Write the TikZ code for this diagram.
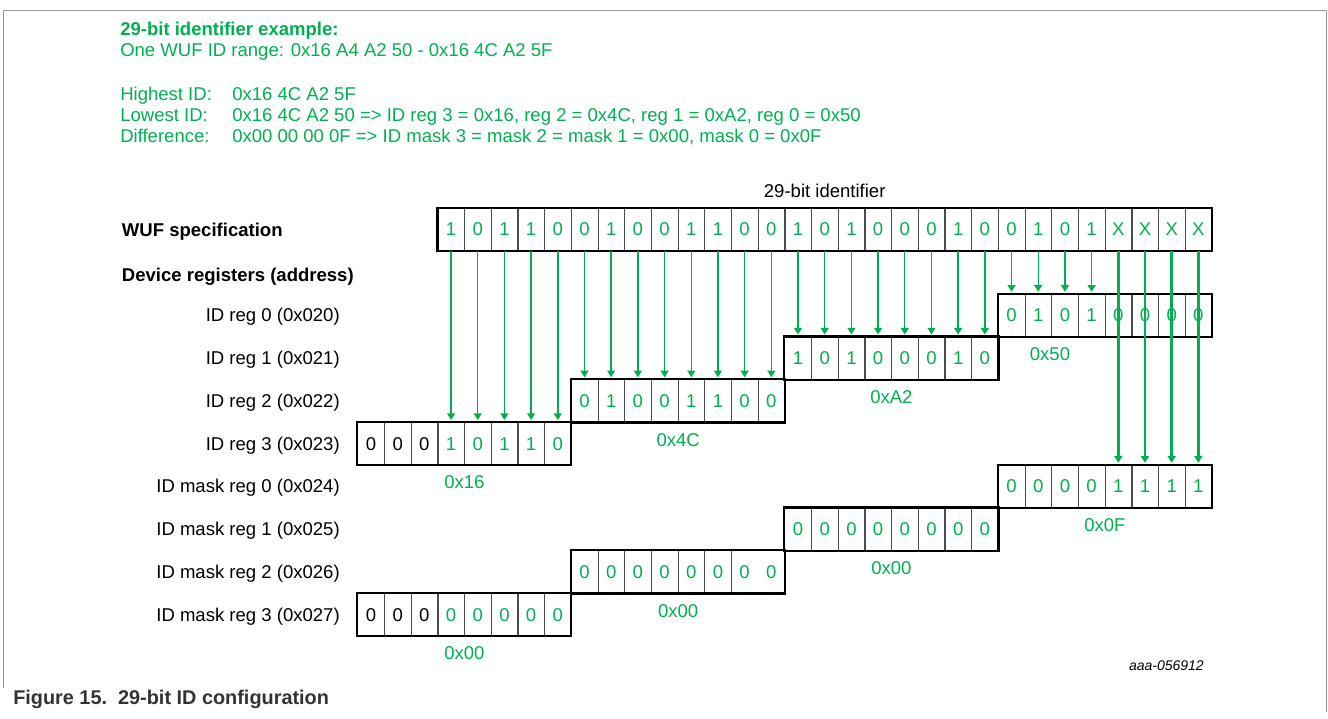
\documentclass[tikz,border=0pt]{standalone}
\usepackage{fontspec}
\setmainfont{Liberation Sans}
\usetikzlibrary{positioning,arrows.meta}
\definecolor{verde}{RGB}{0,176,80}

\begin{document}
\begin{tikzpicture}[x=0.75pt, y=-0.75pt,
        every node/.style={font=\fontsize{13.9}{16.7}\selectfont, inner sep=0pt},
        bit/.style={minimum width=20.02pt, minimum height=32.06pt, text=verde},
        divisor/.style={draw=black!70, line width=0.9pt},
        registro/.style={draw=black, line width=1.6pt},
        flecha/.style={-{Triangle[length=5pt, width=6pt]}, verde, line width=1.05pt, shorten >=1.5pt},
        flechagruesa/.style={flecha, line width=2.1pt},
        nombre/.style={anchor=base east},
        titulo/.style={anchor=base west, font=\fontsize{13.9}{16.7}\selectfont\bfseries},
        encabezado/.style={anchor=base west, text=verde},
        hexa/.style={text=verde}
    ]
    \useasboundingbox (0,0) rectangle (1328,718);
    \draw[black!40, line width=1.1pt] (3.5,688) -- (3.5,10.7) -- (1326.5,10.7) -- (1326.5,712);

    % ejemplo
    \node[titulo, text=verde] (ejemplo) at (120,35.7) {29-bit identifier example:};
    \node[encabezado] (rango) at (120,56.7) {One WUF ID range: 0x16 A4 A2 50 - 0x16 4C A2 5F};
    \node[encabezado] (alto) at (120,100) {Highest ID:};
    \node[encabezado] (bajo) at (120,121.7) {Lowest ID:};
    \node[encabezado] (dif) at (120,142.7) {Difference:};
    \node[encabezado] (altoval) at (232,100) {0x16 4C A2 5F};
    \node[encabezado] (bajoval) at (232,121.7) {0x16 4C A2 50 => ID reg 3 = 0x16, reg 2 = 0x4C, reg 1 = 0xA2, reg 0 = 0x50};
    \node[encabezado] (difval) at (232,142.7) {0x00 00 00 0F => ID mask 3 = mask 2 = mask 1 = 0x00, mask 0 = 0x0F};

    % nombres de filas
    \node[titulo] (wuf) at (121.7,236.6) {WUF specification};
    \node[titulo] (dispositivo) at (121.7,281.6) {Device registers (address)};
    \foreach \k/\txt in {0/ID reg 0 (0x020), 1/ID reg 1 (0x021), 2/ID reg 2 (0x022), 3/ID reg 3 (0x023),
                         4/ID mask reg 0 (0x024), 5/ID mask reg 1 (0x025), 6/ID mask reg 2 (0x026), 7/ID mask reg 3 (0x027)}
        \node[nombre] (nom\k) at (340,{321.9+42.75*\k}) {\txt};

    % identificador de 29 bits
    \foreach \v [count=\i from 0] in {1,0,1,1,0,0,1,0,0,1,1,0,0,1,0,1,0,0,0,1,0,0,1,0,1,X,X,X,X}
        \node[bit] (w\i) at ({437.7+26.69*(\i+0.5)},229.5) {\v};
    \foreach \i in {0,...,27}
        \draw[divisor] (w\i.north east) -- (w\i.south east);
    \draw[registro] (w0.north west) rectangle (w28.south east);
    \node[above=7.5pt of w14] (ident) {29-bit identifier};

    % registros
    \foreach \k/\ini/\bits/\hex/\hx in {0/21/{0,1,0,1,0,0,0,0}/0x50/1050, 1/13/{1,0,1,0,0,0,1,0}/0xA2/891.4,
                                   2/5/{0,1,0,0,1,1,0,0}/0x4C/678.2, 3/-3/{0,0,0,1,0,1,1,0}/0x16/464.4,
                                   4/21/{0,0,0,0,1,1,1,1}/0x0F/1104.9, 5/13/{0,0,0,0,0,0,0,0}/0x00/891.4,
                                   6/5/{0,0,0,0,0,0,0,0}/0x00/678.2, 7/-3/{0,0,0,0,0,0,0,0}/0x00/464.4} {
        \foreach \v [count=\j] in \bits {
            \pgfmathtruncatemacro\col{\ini+\j-1}
            \ifnum\col<0 \def\tinta{black}\else\def\tinta{verde}\fi
            \node[bit, text=\tinta] (r\k-\j) at ({437.7+26.69*(\col+0.5)},{315.375+42.75*\k}) {\v};
        }
        \foreach \j in {1,...,7} {
            \pgfmathtruncatemacro\salta{(\k==6)&&(\j==7)}
            \ifnum\salta=0 \draw[divisor] (r\k-\j.north east) -- (r\k-\j.south east); \fi
        }
        \draw[registro] (r\k-1.north west) rectangle (r\k-8.south east);
        \node[hexa] (hex\k) at (\hx,{354.25+42.75*\k}) {\hex};
    }

    % flechas
    \foreach \i in {0,...,24} {
        \pgfmathtruncatemacro\k{\i<5 ? 3 : (\i<13 ? 2 : (\i<21 ? 1 : 0))}
        \pgfmathtruncatemacro\j{\i-(21-8*\k)+1}
        \draw[flecha] (w\i.south) -- (r\k-\j.north);
    }
    \foreach \i in {25,...,28} {
        \pgfmathtruncatemacro\j{\i-20}
        \draw[flechagruesa] (w\i.south) -- (r4-\j.north);
    }

    \node[anchor=base east, font=\fontsize{10.5}{12.6}\selectfont\itshape] (codigo) at (1204,670) {aaa-056912};
    \node[anchor=base west, font=\fontsize{14.9}{17.9}\selectfont\bfseries, text=black!80] (pie) at (13,704) {Figure 15.\ \ 29-bit ID configuration};
\end{tikzpicture}
\end{document}
